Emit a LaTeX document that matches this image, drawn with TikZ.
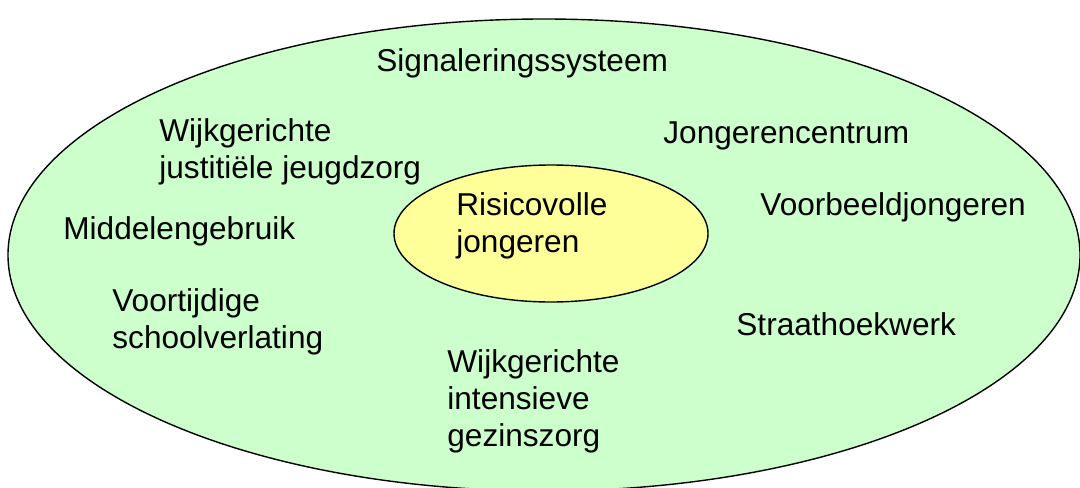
\documentclass[tikz,border=0pt]{standalone}
\usepackage{fontspec}
\setmainfont{Liberation Sans}
\usetikzlibrary{shapes}
\definecolor{zonegreen}{HTML}{CCFFCC}
\definecolor{coreyellow}{HTML}{FFFF99}
\tikzset{
  zone/.style={ellipse, draw, line width=0.7pt, fill=zonegreen, inner sep=0pt},
  core/.style={ellipse, draw, line width=0.7pt, fill=coreyellow, inner sep=0pt},
  item/.style={anchor=base west, inner sep=0pt, align=left,
    font=\fontsize{15.8}{18.5}\selectfont}
}
\begin{document}
\begin{tikzpicture}[x=0.5pt, y=-0.5pt]
	  \useasboundingbox (0,0) rectangle (1080,487);
	  % Ellipses
	  \node[zone, minimum width=536pt, minimum height=236pt] (Z) at (544,255) {};
	  \node[core, minimum width=157pt, minimum height=68.5pt] (R) at (551,233.5) {};

	  % Define nodes (base = last line)
	  \node[item] (sig) at (376,71)  {Signaleringssysteem};
	  \node[item] (wjj) at (159,178) {Wijkgerichte\\justitiële jeugdzorg};
	  \node[item] (jc)  at (663,143) {Jongerencentrum};
	  \node[item] (vbj) at (760,215) {Voorbeeldjongeren};
	  \node[item] (rj)  at (456,252) {Risicovolle\\jongeren};
	  \node[item] (mg)  at (63,239)  {Middelengebruik};
	  \node[item] (vs)  at (112,348) {Voortijdige\\schoolverlating};
	  \node[item] (sw)  at (736,335) {Straathoekwerk};
	  \node[item] (wig) at (447,446) {Wijkgerichte\\intensieve\\gezinszorg};
	\end{tikzpicture}
\end{document}
